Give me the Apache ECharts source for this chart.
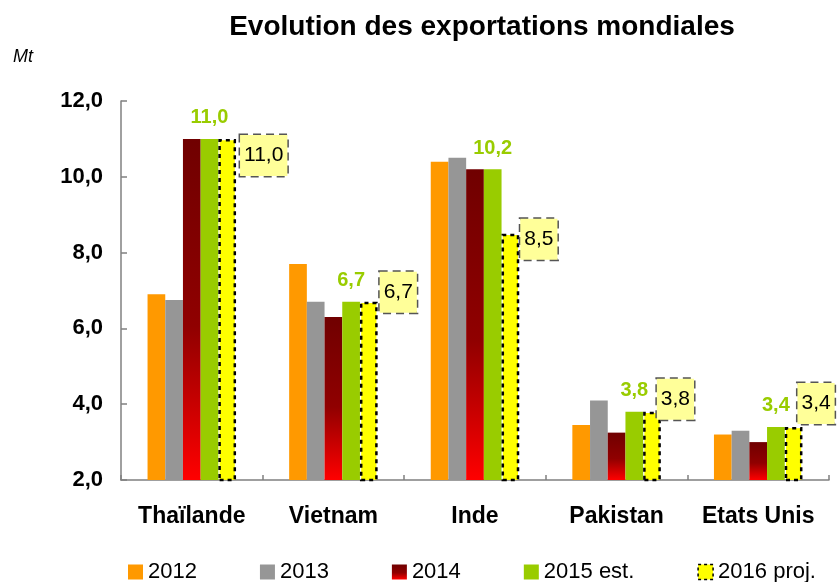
<!DOCTYPE html>
<html>
<head>
<meta charset="utf-8">
<script src="https://cdn.jsdelivr.net/npm/echarts@6/dist/echarts.min.js"></script>
<style>
html,body{margin:0;padding:0;background:#fff;}
#chart{width:837px;height:582px;}
</style>
</head>
<body>
<div id="chart"></div>
<script>
// ---- data ----
var categories = ['Thaïlande', 'Vietnam', 'Inde', 'Pakistan', 'Etats Unis'];
var seriesNames = ['2012', '2013', '2014', '2015 est.', '2016 proj.'];
var v2012 = [6.9, 7.7, 10.4, 3.45, 3.2];
var v2013 = [6.75, 6.7, 10.5, 4.1, 3.3];
var v2014 = [11.0, 6.3, 10.2, 3.25, 3.0];
var v2015 = [11.0, 6.7, 10.2, 3.8, 3.4];
var v2016 = [11.0, 6.7, 8.5, 3.8, 3.4];
var yTicks = [2, 4, 6, 8, 10, 12];

// label box placement (style only)
var boxOffsets = [[4, -4], [2, -30], [1, -15], [-4, -33], [-5, -44]];

var FONT = 'Liberation Sans, Arial, Helvetica, sans-serif';
function fmt(v) { return Number(v).toFixed(1).replace('.', ','); }

var chart = echarts.init(document.getElementById('chart'), null, {renderer: 'canvas'});

var data2016 = v2016.map(function (v, i) {
  return {value: v, label: {offset: boxOffsets[i]}};
});

var legendData = seriesNames.map(function (n, i) {
  return i === 4 ? {name: n, itemStyle: {borderWidth: 1.5, borderType: [3, 3]}} : {name: n};
});

var option = {
  animation: false,
  backgroundColor: '#ffffff',
  textStyle: {fontFamily: FONT},
  title: {
    text: 'Evolution des exportations mondiales',
    left: 477,
    top: 8,
    textAlign: 'center',
    textStyle: {fontSize: 28, fontWeight: 'bold', color: '#000', fontFamily: FONT}
  },
  graphic: [{
    type: 'text',
    left: 13,
    top: 48,
    style: {text: 'Mt', font: 'italic 18px ' + FONT, fill: '#000'}
  }],
  legend: {
    data: legendData,
    left: 128,
    top: 561,
    padding: 0,
    itemWidth: 15,
    itemHeight: 15,
    itemGap: 63,
    icon: 'rect',
    textStyle: {fontSize: 22, color: '#000', fontFamily: FONT}
  },
  grid: {left: 121, right: 8, top: 101, bottom: 102, containLabel: false},
  xAxis: {
    type: 'category',
    data: categories,
    axisLine: {lineStyle: {color: '#808080', width: 1.5}},
    axisTick: {show: true, inside: true, length: 5, lineStyle: {color: '#808080', width: 1.5}},
    axisLabel: {interval: 0, fontSize: 23, fontWeight: 'bold', color: '#000', margin: 25, fontFamily: FONT},
    splitLine: {show: false}
  },
  yAxis: {
    type: 'value',
    min: yTicks[0],
    max: yTicks[yTicks.length - 1],
    interval: yTicks[1] - yTicks[0],
    axisLine: {show: true, lineStyle: {color: '#808080', width: 1.5}},
    axisTick: {show: true, inside: true, length: 6, lineStyle: {color: '#808080', width: 1.5}},
    axisLabel: {fontSize: 22, fontWeight: 'bold', color: '#000', margin: 18, fontFamily: FONT, formatter: fmt},
    splitLine: {show: false}
  },
  series: [
    {name: seriesNames[0], type: 'bar', data: v2012, barGap: '0%', barCategoryGap: '37.5%',
     itemStyle: {color: '#ff9900'}},
    {name: seriesNames[1], type: 'bar', data: v2013, barGap: '0%', barCategoryGap: '37.5%',
     itemStyle: {color: '#969696'}},
    {name: seriesNames[2], type: 'bar', data: v2014, barGap: '0%', barCategoryGap: '37.5%',
     itemStyle: {color: new echarts.graphic.LinearGradient(0, 0, 0, 1, [
       {offset: 0, color: '#700000'}, {offset: 0.55, color: '#900000'}, {offset: 1, color: '#ff0000'}])}},
    {name: seriesNames[3], type: 'bar', data: v2015, barGap: '0%', barCategoryGap: '37.5%',
     itemStyle: {color: '#99cc00'},
     label: {show: true, position: 'top', distance: 11, formatter: function (p) { return fmt(p.value); },
       fontSize: 20, fontWeight: 'bold', color: '#99cc00', fontFamily: FONT}},
    {name: seriesNames[4], type: 'bar', data: data2016, barGap: '0%', barCategoryGap: '37.5%',
     itemStyle: {color: '#ffff00', borderColor: '#000', borderWidth: 2.5, borderType: [4, 4]},
     label: {show: true, position: ['100%', 0], align: 'left', verticalAlign: 'top',
       formatter: function (p) { return fmt(p.value); },
       fontSize: 21, lineHeight: 25, color: '#000', fontFamily: FONT,
       backgroundColor: '#ffff99', borderColor: '#555', borderWidth: 1.5, borderType: [8, 5],
       padding: [8, 4, 8, 4]}}
  ]
};

chart.setOption(option);
</script>
</body>
</html>
